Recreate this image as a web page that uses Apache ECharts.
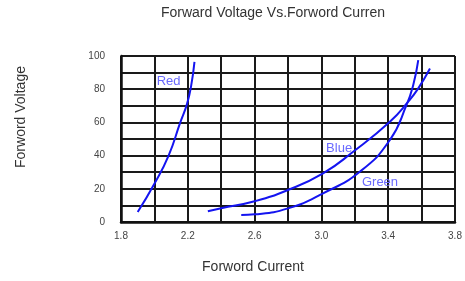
<!DOCTYPE html>
<html>
<head>
<meta charset="utf-8">
<script src="https://cdn.jsdelivr.net/npm/echarts@6/dist/echarts.min.js"></script>
<style>
  html, body { margin: 0; padding: 0; background: #fff; }
  #main { width: 465px; height: 281px; }
</style>
</head>
<body>
<div id="main"></div>
<script>
// curves: [current, voltage]
var redCurve = [[1.9, 6], [2.0, 23], [2.085, 40], [2.155, 60], [2.195, 71], [2.22, 82], [2.24, 96.5]]
var blueCurve = [[2.32, 6.5], [2.4, 8.3], [2.6, 12.5], [2.8, 19.3], [3.01, 29.3], [3.19, 42.3], [3.41, 60.4], [3.52, 72.5], [3.58, 80.5], [3.65, 92.5]]
var greenCurve = [[2.52, 4.2], [2.6, 4.6], [2.8, 8.2], [3.01, 17.3], [3.23, 30.3], [3.41, 49.4], [3.51, 70.5], [3.55, 82.5], [3.58, 97.5]]
var curveNames = ['Red', 'Blue', 'Green']
var nameSpots = [[2.085, 84.5], [3.106, 44.6], [3.351, 24]]
var xTicks = ['1.8', '2.2', '2.6', '3.0', '3.4', '3.8']
var yTicks = ['0', '20', '40', '60', '80', '100']

var font = 'Liberation Sans, Arial, sans-serif'
var lineColor = '#1414f0'
var gridLine = { color: '#1a1a1a', width: 2 }

function curve(name, data, spot) {
  return {
    name: name,
    type: 'line',
    data: data,
    smooth: 0.5,
    symbol: 'none',
    lineStyle: { color: lineColor, width: 2 },
    markPoint: {
      symbol: 'circle',
      symbolSize: 0,
      data: [{ coord: spot, value: name }],
      label: {
        show: true,
        formatter: name,
        color: '#6a6aff',
        fontFamily: font,
        fontSize: 13,
        position: 'inside'
      }
    }
  }
}

var mainEcharts = echarts.init(document.getElementById('main'))
mainEcharts.setOption({
  animation: false,
  grid: { left: 121, right: 10, top: 56, bottom: 59 },
  xAxis: {
    type: 'value',
    min: 1.8,
    max: 3.8,
    interval: 0.2,
    axisLine: { show: true, onZero: false, lineStyle: { color: '#111', width: 2.5 } },
    axisTick: { show: false },
    splitLine: { show: true, lineStyle: gridLine },
    axisLabel: {
      margin: 9,
      fontFamily: font,
      fontSize: 10,
      color: '#444',
      formatter: function (v) {
        var s = v.toFixed(1)
        return xTicks.indexOf(s) >= 0 ? s : ''
      }
    }
  },
  yAxis: {
    type: 'value',
    min: 0,
    max: 100,
    interval: 10,
    axisLine: { show: true, lineStyle: { color: '#111', width: 2.5 } },
    axisTick: { show: false },
    splitLine: { show: true, lineStyle: gridLine },
    axisLabel: {
      margin: 16,
      fontFamily: font,
      fontSize: 10,
      color: '#444',
      formatter: function (v) {
        var s = String(Math.round(v))
        return yTicks.indexOf(s) >= 0 ? s : ''
      }
    }
  },
  graphic: [
    {
      type: 'text', x: 273, y: 13,
      style: { text: 'Forward Voltage Vs.Forword Curren', fontFamily: font, fontSize: 14, fill: '#333', align: 'center', verticalAlign: 'middle' }
    },
    {
      type: 'text', x: 253, y: 267,
      style: { text: 'Forword Current', fontFamily: font, fontSize: 14, fill: '#333', align: 'center', verticalAlign: 'middle' }
    },
    {
      type: 'text', x: 21, y: 117, rotation: Math.PI / 2,
      style: { text: 'Forword Voltage', fontFamily: font, fontSize: 14, fill: '#333', align: 'center', verticalAlign: 'middle' }
    }
  ],
  series: [
    curve(curveNames[0], redCurve, nameSpots[0]),
    curve(curveNames[1], blueCurve, nameSpots[1]),
    curve(curveNames[2], greenCurve, nameSpots[2])
  ]
})
</script>
</body>
</html>
